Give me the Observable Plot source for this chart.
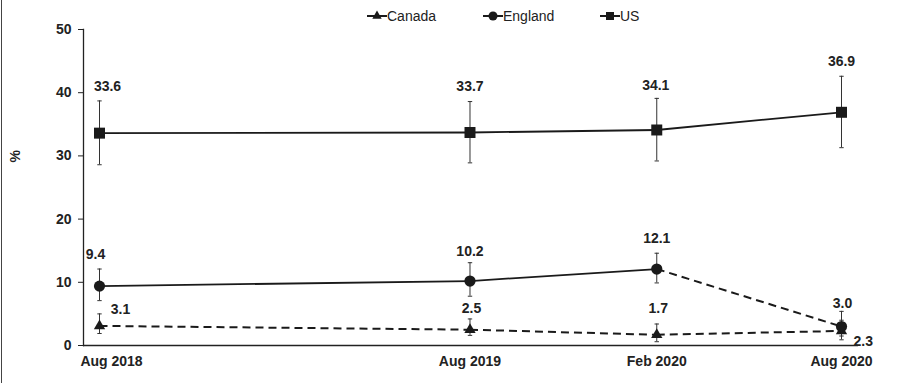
<!DOCTYPE html>
<html><head><meta charset="utf-8">
<script src="https://cdn.jsdelivr.net/npm/d3@7"></script>
<script src="https://cdn.jsdelivr.net/npm/@observablehq/plot@0.6"></script>
<style>
body{margin:0;background:#fff;}
#wrap{position:relative;width:919px;height:383px;overflow:hidden;background:#fff;}
#border{position:absolute;left:1px;top:0;bottom:0;width:1px;background:#444;}
.item{position:absolute;top:7px;height:18px;display:flex;align-items:center;font-family:"Liberation Sans",Arial,sans-serif;font-size:14px;color:#222;white-space:nowrap;}
.item svg{display:block;margin-right:0px;}
</style></head><body>
<div id="wrap"><div id="border"></div></div>
<script>
// ---- data ----
const periods = ["Aug 2018", "Aug 2019", "Feb 2020", "Aug 2020"];
const periodDates = [[2018, 7], [2019, 7], [2020, 1], [2020, 7]];
const seriesNames = ["Canada", "England", "US"];
const canada   = [3.1, 2.5, 1.7, 2.3];
const canadaLo = [1.9, 1.6, 0.6, 0.9];
const canadaHi = [5.0, 4.2, 3.4, 4.0];
const england   = [9.4, 10.2, 12.1, 3.0];
const englandLo = [7.1, 7.8, 9.9, 1.5];
const englandHi = [12.1, 13.1, 14.6, 5.4];
const us   = [33.6, 33.7, 34.1, 36.9];
const usLo = [28.6, 28.9, 29.2, 31.3];
const usHi = [38.7, 38.6, 39.1, 42.6];
const yTicks = [0, 10, 20, 30, 40, 50];

// ---- styling config (not data) ----
const dashedSegments = {Canada: [0, 1, 2], England: [2], US: []};
const symbols = {Canada: "triangle", England: "circle", US: "square"};
const radii = {Canada: 4.2, England: 5.6, US: 6.2};
const labelNudge = {
  "US-0": [8, -14.5], "US-1": [0, -15], "US-2": [-1, -13], "US-3": [0, -14.5],
  "England-0": [-4, -14.5], "England-1": [0, -11], "England-2": [0, -14.5], "England-3": [1, -8],
  "Canada-0": [21, -4.5], "Canada-1": [1.5, -10.5], "Canada-2": [1.5, -15.5], "Canada-3": [12, 21.5, "start"]
};

const dates = periodDates.map(([y, m]) => new Date(Date.UTC(y, m, 1)));
const vals = {Canada: [canada, canadaLo, canadaHi], England: [england, englandLo, englandHi], US: [us, usLo, usHi]};

const points = [];
const segs = [];
for (const s of seriesNames) {
  const [v, lo, hi] = vals[s];
  v.forEach((val, i) => points.push({series: s, i, date: dates[i], value: val, lo: lo[i], hi: hi[i], label: val.toFixed(1)}));
  for (let i = 0; i < v.length - 1; i++) {
    segs.push({series: s, x1: dates[i], y1: v[i], x2: dates[i + 1], y2: v[i + 1], dashed: dashedSegments[s].includes(i)});
  }
}
const caps = points.flatMap(p => [{date: p.date, y: p.lo}, {date: p.date, y: p.hi}]);
const capSymbol = {draw(ctx, size) { const w = Math.sqrt(size / Math.PI); ctx.moveTo(-w, 0); ctx.lineTo(w, 0); }};

const ink = "#1a1a1a";
const fs = 14;
const fmtX = d => periods[dates.findIndex(e => +e === +d)];

const labelMarks = points.map(p => {
  const n = labelNudge[p.series + "-" + p.i] || [0, -13];
  return Plot.text([p], {x: "date", y: "hi", text: "label", dx: n[0], dy: n[1], textAnchor: n[2] || "middle",
    lineAnchor: "middle", fontWeight: "bold", fontSize: fs, fill: "#222"});
});

const chart = Plot.plot({
  width: 919, height: 383,
  marginLeft: 83, marginRight: 61, marginTop: 29, marginBottom: 38,
  style: {fontFamily: "'Liberation Sans', Arial, sans-serif", fontSize: fs + "px", background: "#fff"},
  x: {type: "utc", domain: [dates[0], dates[dates.length - 1]], insetLeft: 16, insetRight: 17},
  y: {domain: [0, 50]},
  marks: [
    Plot.axisY({ticks: yTicks, tickSize: 5, tickPadding: 7, fontWeight: "bold", fontSize: fs, color: "#222", label: null}),
    Plot.axisX([dates[0]], {tickSize: 0, tickPadding: 11, dx: 12, tickFormat: fmtX, fontWeight: "bold", fontSize: fs, color: "#222", label: null}),
    Plot.axisX(dates.slice(1), {tickSize: 0, tickPadding: 11, tickFormat: fmtX, fontWeight: "bold", fontSize: fs, color: "#222", label: null}),
    Plot.ruleY([0], {stroke: "#222", strokeWidth: 1.3}),
    Plot.frame({anchor: "left", stroke: "#222", strokeWidth: 1.3}),
    Plot.text(["%"], {frameAnchor: "left", dx: -68, dy: -25, rotate: -90, fontWeight: "bold", fontSize: fs, fill: "#222"}),
    Plot.link(segs.filter(d => !d.dashed), {x1: "x1", y1: "y1", x2: "x2", y2: "y2", stroke: ink, strokeWidth: 1.8}),
    Plot.link(segs.filter(d => d.dashed), {x1: "x1", y1: "y1", x2: "x2", y2: "y2", stroke: ink, strokeWidth: 2, strokeDasharray: "8,5"}),
    Plot.ruleX(points, {x: "date", y1: "lo", y2: "hi", stroke: "#333", strokeWidth: 1}),
    Plot.dot(caps, {x: "date", y: "y", symbol: capSymbol, r: 2.2, stroke: "#333", strokeWidth: 1, fill: "none"}),
    ...seriesNames.map(s => Plot.dot(points.filter(p => p.series === s), {x: "date", y: "value", symbol: symbols[s], r: radii[s], fill: ink, stroke: "none"})),
    ...labelMarks
  ]
});

const wrap = document.getElementById("wrap");
wrap.insertBefore(chart, wrap.firstChild);

// legend
const legendLeft = {Canada: 367, England: 483, US: 600};
for (const s of seriesNames) {
  const item = document.createElement("div");
  item.className = "item";
  item.style.left = legendLeft[s] + "px";
  const sym = d3.symbol(s === "Canada" ? d3.symbolTriangle : s === "England" ? d3.symbolCircle : d3.symbolSquare,
    s === "Canada" ? 38 : 64)();
  item.innerHTML = `<svg width="20" height="18"><line x1="0" x2="20" y1="9" y2="9" stroke="${ink}" stroke-width="2"/>` +
    `<path d="${sym}" transform="translate(10,9)" fill="${ink}"/></svg><span>${s}</span>`;
  wrap.appendChild(item);
}
</script>
</body></html>
